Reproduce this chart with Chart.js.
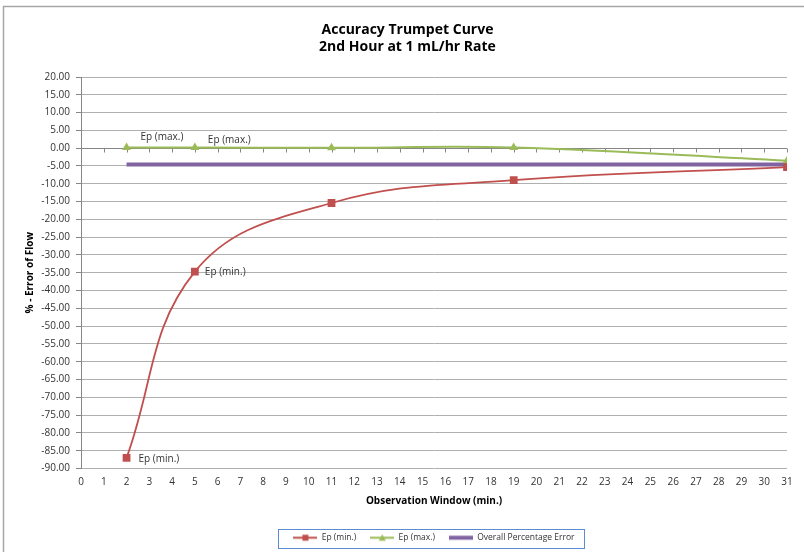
<!DOCTYPE html>
<html>
<head>
<meta charset="utf-8">
<style>
  html, body { margin: 0; padding: 0; background: #fff; }
  #wrap { width: 804px; height: 552px; position: relative; }
</style>
<script src="https://cdn.jsdelivr.net/npm/chart.js@4.4.1/dist/chart.umd.min.js"></script>
</head>
<body>
<div id="wrap"><canvas id="trumpetChart"></canvas></div>
<script>
// Observation windows (min.) and percentage error values
const windowMinutes = [2, 5, 11, 19, 31];
const epMin = [-87.0, -34.7, -15.4, -9.0, -5.3];
const epMax = [0.2, 0.2, 0.1, 0.2, -3.5];
const overallError = [-4.6, -4.6, -4.6, -4.6, -4.6];

// point labels (null = no label)
const epMinLabels = ["Ep (min.)", "Ep (min.)", null, null, null];
const epMaxLabels = ["Ep (max.)", "Ep (max.)", null, null, null];

// axis ranges
const xMin = 0, xMax = 31, xStep = 1;
const yMin = -90, yMax = 20, yStep = 5;

const RED = "#C0504D";
const GREEN = "#9BBB59";
const PURPLE = "#8064A2";
const FONT = "'Open Sans', 'Noto Sans', sans-serif";

const toPoints = (ys) => windowMinutes.map((x, i) => ({ x: x, y: ys[i] }));

// little line + marker swatch for the legend
function legendSwatch(color, marker, lineWidth) {
    const c = document.createElement("canvas");
    c.width = 24;
    c.height = 9;
    const g = c.getContext("2d");
    g.strokeStyle = color;
    g.lineWidth = lineWidth;
    g.beginPath();
    g.moveTo(0, 4.5);
    g.lineTo(24, 4.5);
    g.stroke();
    g.fillStyle = color;
    if (marker === "rect") {
        g.fillRect(9, 1.5, 6, 6);
    } else if (marker === "triangle") {
        g.beginPath();
        g.moveTo(12, 1);
        g.lineTo(15.5, 7.5);
        g.lineTo(8.5, 7.5);
        g.closePath();
        g.fill();
    }
    return c;
}

// outer frame of the chart (top and left edges)
const framePlugin = {
    id: "frame",
    beforeDraw(chart) {
        const ctx = chart.ctx;
        ctx.save();
        ctx.strokeStyle = "#a6a6a6";
        ctx.lineWidth = 1.5;
        ctx.beginPath();
        ctx.moveTo(3.5, chart.height);
        ctx.lineTo(3.5, 6.5);
        ctx.lineTo(chart.width, 6.5);
        ctx.stroke();
        ctx.restore();
    },
};

// title sits a bit right of the canvas centre, legend centred under the plot
const blockShiftPlugin = {
    id: "blockShift",
    afterLayout(chart) {
        const t = chart.titleBlock;
        t.left += 12;
        t.right += 12;
        const lg = chart.legend;
        const area = chart.chartArea;
        const dx = (area.left + area.right) / 2 - (lg.left + lg.right) / 2;
        lg.left += dx;
        lg.right += dx;
    },
};

// x axis crosses at 0: draw the line there with small tick marks
const zeroAxisPlugin = {
    id: "zeroAxis",
    beforeDatasetsDraw(chart) {
        const { ctx, scales } = chart;
        const y0 = Math.round(scales.y.getPixelForValue(0)) + 0.5;
        ctx.save();
        ctx.strokeStyle = "#868686";
        ctx.lineWidth = 1;
        ctx.beginPath();
        ctx.moveTo(chart.chartArea.left, y0);
        ctx.lineTo(chart.chartArea.right, y0);
        for (let v = xMin; v <= xMax; v += xStep) {
            const px = Math.round(scales.x.getPixelForValue(v)) + 0.5;
            ctx.moveTo(px, y0);
            ctx.lineTo(px, y0 + 4);
        }
        ctx.stroke();
        ctx.restore();
    },
};

// text labels next to selected points
const pointLabelPlugin = {
    id: "pointLabels",
    afterDatasetsDraw(chart) {
        const ctx = chart.ctx;
        ctx.save();
        ctx.font = "10px " + FONT;
        ctx.fillStyle = "#333";
        ctx.textBaseline = "middle";
        ctx.textAlign = "left";
        chart.data.datasets.forEach((ds, di) => {
            if (!ds.pointLabels) return;
            const meta = chart.getDatasetMeta(di);
            ds.pointLabels.forEach((txt, i) => {
                if (!txt) return;
                const el = meta.data[i];
                const off = ds.pointLabelOffsets[i];
                ctx.fillText(txt, el.x + off[0], el.y + off[1]);
            });
        });
        ctx.restore();
    },
};

// border round the legend
const legendBoxPlugin = {
    id: "legendBox",
    afterDraw(chart) {
        const boxes = chart.legend.legendHitBoxes;
        if (!boxes || !boxes.length) return;
        const left = Math.min(...boxes.map((b) => b.left)) - 15;
        const right = Math.max(...boxes.map((b) => b.left + b.width)) + 10;
        const top = Math.min(...boxes.map((b) => b.top)) - 5;
        const bottom = Math.max(...boxes.map((b) => b.top + b.height)) + 5;
        const ctx = chart.ctx;
        ctx.save();
        ctx.strokeStyle = "#5b8bd0";
        ctx.lineWidth = 1;
        ctx.strokeRect(Math.round(left) + 0.5, Math.round(top) + 0.5, Math.round(right - left), Math.round(bottom - top));
        ctx.restore();
    },
};

const ctx = document.getElementById("trumpetChart").getContext("2d");

const trumpetChart = new Chart(ctx, {
    type: "line",
    data: {
        datasets: [
            {
                label: "Ep (min.)",
                data: toPoints(epMin),
                borderColor: RED,
                backgroundColor: RED,
                borderWidth: 1.8,
                tension: 0.4,
                pointStyle: "rect",
                pointRadius: 5.5,
                pointBorderWidth: 0,
                pointLabels: epMinLabels,
                pointLabelOffsets: [[12, 1], [10, 0], [0, 0], [0, 0], [0, 0]],
                legendImage: legendSwatch(RED, "rect", 2),
            },
            {
                label: "Ep (max.)",
                data: toPoints(epMax),
                borderColor: GREEN,
                backgroundColor: GREEN,
                borderWidth: 2,
                tension: 0.4,
                pointStyle: "triangle",
                pointRadius: 5,
                pointBorderWidth: 0,
                pointLabels: epMaxLabels,
                pointLabelOffsets: [[14, -10], [13, -7], [0, 0], [0, 0], [0, 0]],
                legendImage: legendSwatch(GREEN, "triangle", 2),
            },
            {
                label: "Overall Percentage Error",
                data: toPoints(overallError),
                borderColor: PURPLE,
                backgroundColor: PURPLE,
                borderWidth: 4,
                tension: 0,
                pointRadius: 0,
                legendImage: legendSwatch(PURPLE, null, 4),
            },
        ],
    },
    options: {
        responsive: true,
        maintainAspectRatio: false,
        animation: false,
        layout: {
            padding: { left: 4, right: 17, top: 0, bottom: 0 },
        },
        plugins: {
            title: {
                display: true,
                text: ["Accuracy Trumpet Curve", "2nd Hour at 1 mL/hr Rate"],
                color: "#000",
                font: { family: FONT, size: 14, weight: "bold", lineHeight: 1.2 },
                padding: { top: 22, bottom: 21.4 },
            },
            legend: {
                position: "bottom",
                labels: {
                    usePointStyle: true,
                    pointStyleWidth: 24,
                    padding: 14,
                    color: "#333",
                    font: { family: FONT, size: 8.5 },
                    generateLabels(chart) {
                        return chart.data.datasets.map((ds, i) => ({
                            text: ds.label,
                            pointStyle: ds.legendImage,
                            fontColor: "#333",
                            lineWidth: 0,
                            strokeStyle: "transparent",
                            fillStyle: "transparent",
                            datasetIndex: i,
                            hidden: false,
                        }));
                    },
                },
            },
            tooltip: { enabled: false },
        },
        scales: {
            x: {
                type: "linear",
                min: xMin,
                max: xMax,
                afterFit(scale) {
                    scale.height = 51;
                },
                grid: { display: false, drawTicks: false },
                border: { display: false },
                ticks: {
                    stepSize: xStep,
                    autoSkip: false,
                    maxRotation: 0,
                    padding: 8,
                    color: "#333",
                    font: { family: FONT, size: 10 },
                },
                title: {
                    display: true,
                    text: "Observation Window (min.)",
                    color: "#000",
                    font: { family: FONT, size: 10, weight: "bold", lineHeight: 1.2 },
                    padding: { top: 0, bottom: 12 },
                },
            },
            y: {
                min: yMin,
                max: yMax,
                afterFit(scale) {
                    scale.width = 77;
                },
                grid: {
                    color: (c) => (c.tick && c.tick.value === 0 ? "#868686" : "#b0b0b0"),
                    tickLength: 5,
                    tickColor: "#868686",
                },
                border: { display: true, color: "#868686" },
                ticks: {
                    stepSize: yStep,
                    padding: 6,
                    color: "#333",
                    font: { family: FONT, size: 10 },
                    callback: (value) => value.toFixed(2),
                },
                title: {
                    display: true,
                    text: "% - Error of Flow",
                    color: "#000",
                    font: { family: FONT, size: 10, weight: "bold", lineHeight: 1.2 },
                    padding: { top: 20, bottom: 0 },
                },
            },
        },
    },
    plugins: [framePlugin, blockShiftPlugin, zeroAxisPlugin, pointLabelPlugin, legendBoxPlugin],
});
</script>
</body>
</html>
